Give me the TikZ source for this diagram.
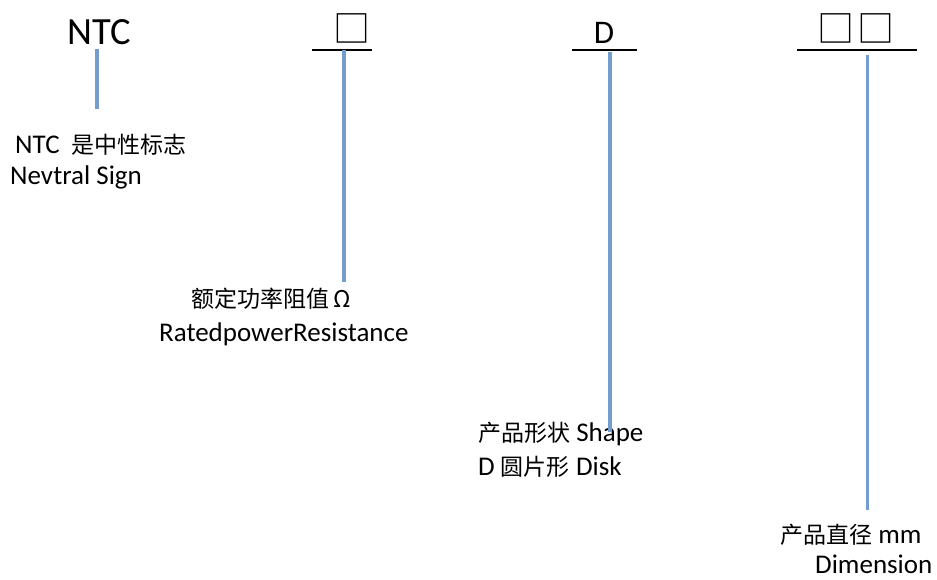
\documentclass[tikz,border=0pt]{standalone}
\usepackage{fontspec}
\setmainfont{Carlito}
\newfontfamily\cjk{Noto Sans CJK SC}
\definecolor{lineblue}{RGB}{114,157,204}
\newcommand\zhtxt[1]{{\cjk\fontsize{23}{28}\selectfont #1}}
\begin{document}
\begin{tikzpicture}[x=1pt,y=-1pt,
  lbl/.style={anchor=base west, inner sep=0pt, font=\fontsize{27}{30}\selectfont},
  head/.style={anchor=base, inner sep=0pt},
  boxglyph/.style={anchor=center, inner sep=0pt, font=\cjk\fontsize{37}{40}\selectfont},
  lead/.style={draw=lineblue, line width=3.5pt},
  rulebar/.style={draw=black, line width=2pt}]
\useasboundingbox (0,0) rectangle (937,579);
% headings
\node[head, font=\fontsize{38.5}{40}\selectfont] (ntc) at (99,44) {NTC};
\node[boxglyph] (box1) at (351.5,28.5) {□};
\node[head, font=\fontsize{33}{36}\selectfont] (dd) at (604,43.5) {D};
\node[boxglyph] (box2) at (836,28.5) {□};
\node[boxglyph] (box3) at (876,28.5) {□};
% rules
\coordinate (r1l) at (312,49.5); \coordinate (r1r) at (372,49.5);
\coordinate (r2l) at (572,49.5); \coordinate (r2r) at (637,49.5);
\coordinate (r3l) at (797,49.5); \coordinate (r3r) at (917,49.5);
\draw[rulebar] (r1l) -- (r1r);
\draw[rulebar] (r2l) -- (r2r);
\draw[rulebar] (r3l) -- (r3r);
% labels
\node[lbl] (l1a) at (15,153) {NTC\hspace{12pt}\zhtxt{是中性标志}};
\node[lbl] (l1b) at (10,184) {Nevtral Sign};
\node[lbl] (l2a) at (191.7,307) {\zhtxt{额定功率阻值\hspace{4pt}Ω}};
\node[lbl] (l2b) at (159,341.5) {RatedpowerResistance};
\node[lbl] (l3a) at (478,441.5) {\zhtxt{产品形状} Shape};
\node[lbl] (l3b) at (478,475) {D \zhtxt{圆片形} Disk};
\node[lbl] (l4a) at (780,543) {\zhtxt{产品直径} mm};
\node[lbl] (l4b) at (815,573.5) {Dimension};
% leaders
\coordinate (t1) at (97,49);    \coordinate (b1) at (97,109);
\coordinate (t2) at (344,50);   \coordinate (b2) at (344,282);
\coordinate (t3) at (610,52);   \coordinate (b3) at (610,432);
\coordinate (t4) at (867.5,55); \coordinate (b4) at (867.5,510);
\draw[lead] (t1) -- (b1);
\draw[lead] (t2) -- (b2);
\draw[lead] (t3) -- (b3);
\draw[lead] (t4) -- (b4);
\end{tikzpicture}
\end{document}
